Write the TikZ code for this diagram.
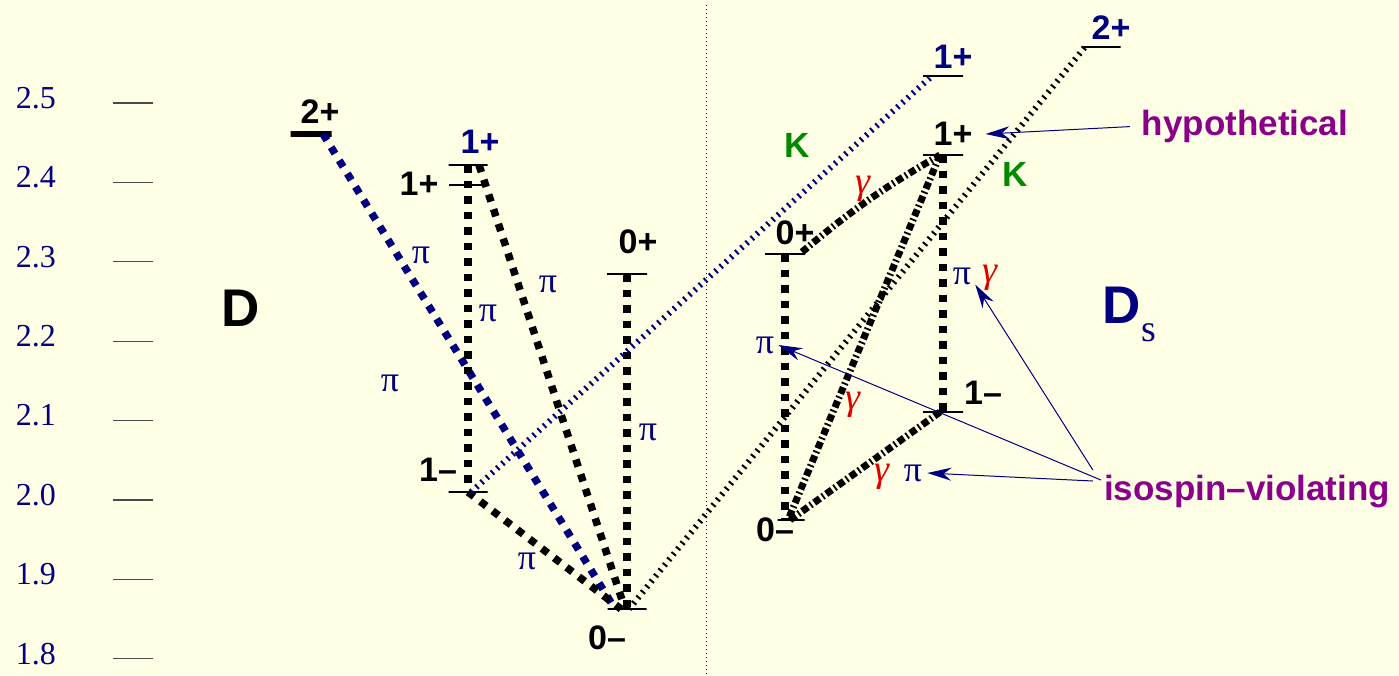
\documentclass[tikz,border=0pt]{standalone}
\usepackage{fontspec}
\setmainfont{Liberation Serif}
\setsansfont{Liberation Sans}
\usetikzlibrary{arrows.meta,positioning}
\definecolor{paperyellow}{HTML}{FFFFE6}
\definecolor{navyblue}{HTML}{000080}
\definecolor{labelpurple}{HTML}{8B008B}
\definecolor{kaongreen}{HTML}{008A00}
\definecolor{photonred}{HTML}{DD0000}
\definecolor{tickgrey}{HTML}{4A4A4A}

\begin{document}
\begin{tikzpicture}[x=1pt, y=-1pt,
  lvl/.style={draw, line width=1.5pt, inner sep=0pt, outer sep=0pt, minimum height=0pt, minimum width=#1},
  lvl/.default=40pt,
  lab/.style={font=\fontsize{34}{36}\sffamily\bfseries, inner sep=0pt},
  axlab/.style={font=\fontsize{32}{34}\selectfont, text=navyblue, inner sep=0pt},
  pilab/.style={font=\fontsize{36}{38}\selectfont, text=navyblue, inner sep=0pt},
  gamlab/.style={font=\fontsize{38}{40}\itshape, text=photonred, inner sep=0pt},
  klab/.style={font=\fontsize{35}{37}\sffamily\bfseries, text=kaongreen, inner sep=0pt},
  note/.style={font=\fontsize{35}{37}\sffamily\bfseries, text=labelpurple, inner sep=0pt},
  pidecay/.style={line width=7.5pt, dash pattern=on 7.5pt off 8pt},
  kdecay/.style={line width=6pt, dash pattern=on 2pt off 5pt},
  gdecay/.style={line width=7pt, dash pattern=on 7pt off 3pt on 1.8pt off 3pt},
  ptr/.style={navyblue, line width=1pt, -{Stealth[length=24pt,width=13pt]}}]
\fill[paperyellow] (0,0) rectangle (1399,675);
\useasboundingbox (0,0) rectangle (1399,675);
\draw[navyblue, line width=1pt, dash pattern=on 1pt off 3pt] (706,5) -- (706,675);

\foreach \m [count=\k from 0] in {2.5,2.4,2.3,2.2,2.1,2.0,1.9,1.8}{
  \node[axlab] (mass\k) at (36,98+79.4*\k) {\m};
  \draw[tickgrey, line width=1.3pt] (113,103+79.4*\k) -- (153,103+79.4*\k);
}

\node[lvl=41pt, line width=6pt] (D2p) at (311,134) {};
\node[lvl=39pt] (D1pu) at (468,165) {};
\node[lvl=34pt] (D1pl) at (466,185) {};
\node[lvl=40pt] (D0p) at (627,274) {};
\node[lvl=39pt] (D1m) at (468,492) {};
\node[lvl=39pt] (D0m) at (627,609) {};
\node[lvl=39pt] (S2p) at (1101,47) {};
\node[lvl=40pt] (S1pu) at (943,76) {};
\node[lvl=40pt] (S1p) at (943,155) {};
\node[lvl=40pt] (S0p) at (785,254) {};
\node[lvl=40pt] (S1m) at (943,412) {};
\node[lvl=27pt] (S0m) at (791,520) {};

\draw[pidecay, navyblue] ([xshift=12pt]D2p.center) -- ([xshift=-12pt]D0m.center);
\draw[pidecay] (D1pu.center) -- (D1m.center);
\draw[pidecay] ([xshift=11pt]D1pu.center) -- ([xshift=-2pt]D0m.center);
\draw[pidecay] (D1m.center) -- ([xshift=-6pt]D0m.center);
\draw[pidecay] (D0p.center) -- (D0m.center);
\draw[kdecay, navyblue] ([xshift=3pt]D1m.center) -- ([xshift=-11pt]S1pu.center);
\draw[kdecay] ([xshift=2pt]D0m.center) -- ([xshift=-16pt]S2p.center);
\draw[pidecay] (S0p.center) -- ([xshift=-6pt]S0m.center);
\draw[pidecay] (S1p.center) -- (S1m.center);
\draw[gdecay] ([xshift=-3pt]S1p.center) -- ([xshift=-3pt]S0m.center);
\draw[gdecay] ([xshift=-3pt]S1m.center) -- ([xshift=-1pt]S0m.center);
\draw[gdecay] ([xshift=17pt,yshift=2pt]S0p.center) to[bend left=5] ([xshift=-3pt]S1p.center);

\node[lab] (D2plab) at (320,112) {2+};
\node[lab, text=navyblue] (D1pulab) at (480,142) {1+};
\node[lab] (D1pllab) at (419,184) {1+};
\node[lab] (D0plab) at (638,242) {0+};
\node[lab] (D1mlab) at (438,470) {1–};
\node[lab] (D0mlab) at (607,638) {0–};
\node[lab, text=navyblue] (S2plab) at (1111,28) {2+};
\node[lab, text=navyblue] (S1pulab) at (953,57) {1+};
\node[lab] (S1plab) at (953,134) {1+};
\node[lab] (S0plab) at (795,233) {0+};
\node[lab] (S1mlab) at (983,393) {1–};
\node[lab] (S0mlab) at (775,530) {0–};

\node[font=\fontsize{53}{55}\sffamily\bfseries, inner sep=0pt] (Dlab) at (241,308) {D};
\node[font=\fontsize{53}{55}\sffamily\bfseries, text=navyblue, inner sep=0pt] (Slab) at (1122,305) {D};
\node[font=\fontsize{38}{40}\selectfont, text=navyblue, inner sep=0pt] (Ssub) at (1149,333) {s};

\node[pilab] (pi1) at (421,255) {π};
\node[pilab] (pi2) at (488,313) {π};
\node[pilab] (pi3) at (548,284) {π};
\node[pilab] (pi4) at (390,383) {π};
\node[pilab] (pi5) at (648,432) {π};
\node[pilab] (pi6) at (527,561) {π};
\node[pilab] (pi7) at (765,345) {π};
\node[pilab] (pi8) at (962,276) {π};
\node[pilab] (pi9) at (913,473) {π};
\node[gamlab] (g1) at (863,189) {γ};
\node[gamlab] (g2) at (990,278) {γ};
\node[gamlab] (g3) at (853,405) {γ};
\node[gamlab] (g4) at (882,477) {γ};
\node[klab] (k1) at (797,145) {K};
\node[klab] (k2) at (1015,174) {K};
\node[note] (hyp) at (1245,126) {hypothetical};
\node[note] (iso) at (1247,492) {isospin–violating};

\draw[ptr, shorten <=12pt] (hyp.west) -- ([xshift=13pt]S1plab.east);
\draw[ptr] ([xshift=-11pt,yshift=11pt]iso.west) -- ([xshift=5pt]pi9.east);
\draw[ptr] ([xshift=-3pt,yshift=12pt]iso.west) -- ([xshift=4pt]pi7.east);
\draw[ptr] ([xshift=-11pt,yshift=22pt]iso.west) -- ([xshift=4pt]pi8.south east);
\end{tikzpicture}
\end{document}
